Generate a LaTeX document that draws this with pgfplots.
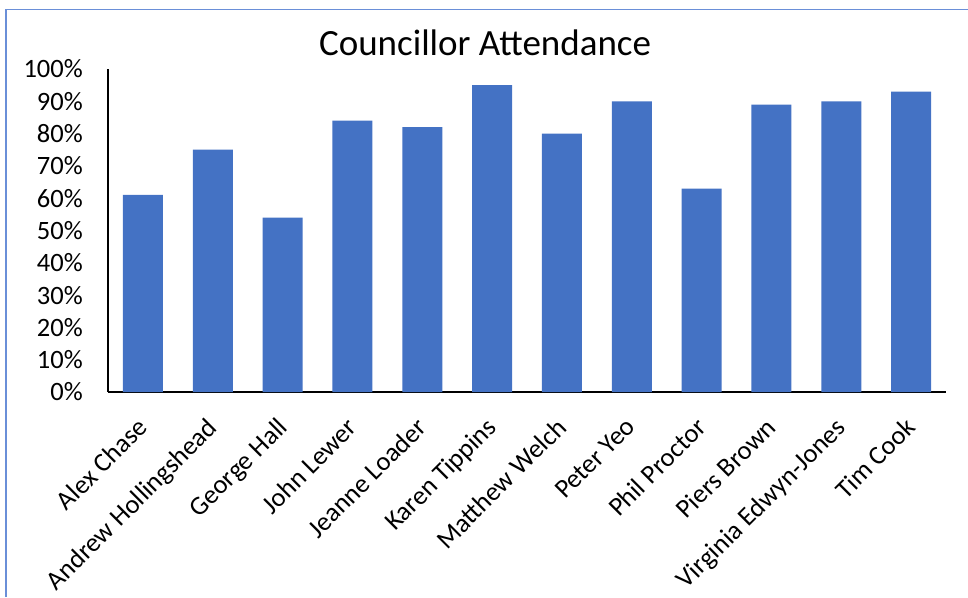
\documentclass[border=0pt]{standalone}
\usepackage{fontspec}
\setmainfont{Carlito}
\usepackage{pgfplots}
\pgfplotsset{compat=1.18}
\definecolor{barblue}{HTML}{4472C4}
\definecolor{frameblue}{HTML}{6A8FD8}
\begin{document}
\begin{tikzpicture}[x=1pt,y=1pt]
\useasboundingbox (0,0) rectangle (968,597);
\draw[frameblue, line width=1.5pt] (6,0) -- (6,587.5) -- (968,587.5);
\begin{axis}[
  at={(108pt,205pt)}, anchor=south west,
  width=838pt, height=323pt, scale only axis,
  xmin=-0.5, xmax=11.5, ymin=0, ymax=100,
  axis lines*=left,
  axis line style={black, line width=1.2pt},
  major tick length=0pt,
  xtick={0,...,11},
  xticklabels={Alex Chase,Andrew Hollingshead,George Hall,John Lewer,Jeanne Loader,Karen Tippins,Matthew Welch,Peter Yeo,Phil Proctor,Piers Brown,Virginia Edwyn-Jones,Tim Cook},
  x tick label style={xshift=-7pt, yshift=-24pt, rotate=45, anchor=north east, font=\fontsize{26.5}{26.5}\selectfont, inner sep=0pt},
  ytick={0,10,...,100},
  yticklabels={0\%,10\%,20\%,30\%,40\%,50\%,60\%,70\%,80\%,90\%,100\%},
  y tick label style={anchor=east, font=\fontsize{26.5}{26.5}\selectfont, inner sep=0pt, xshift=-25pt},
  title={Councillor Attendance},
  title style={at={(axis description cs:0.45,1)}, anchor=base, yshift=7pt, font=\fontsize{37}{37}\selectfont},
  clip=false,
]
\addplot[ybar, bar width=40pt, fill=barblue, draw=none] coordinates {
(0,61) (1,75) (2,54) (3,84) (4,82) (5,95) (6,80) (7,90) (8,63) (9,89) (10,90) (11,93)
};
\end{axis}
\end{tikzpicture}
\end{document}
